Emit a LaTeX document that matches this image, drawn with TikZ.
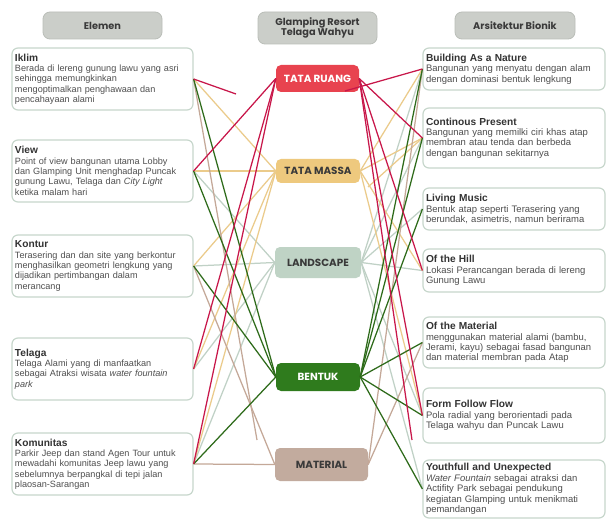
\documentclass[tikz,border=0pt]{standalone}
\usepackage{fontspec}
\setmainfont{Liberation Sans}
\newfontfamily\popfont{Poppins}
\definecolor{redfill}{HTML}{E8434F}
\definecolor{redline}{HTML}{C8174A}
\definecolor{tanfill}{HTML}{EEC97E}
\definecolor{tanline}{HTML}{EBCB8B}
\definecolor{lsfill}{HTML}{BFD3C5}
\definecolor{lsline}{HTML}{C0D1C6}
\definecolor{btfill}{HTML}{2F7B1D}
\definecolor{grline}{HTML}{2E6B1A}
\definecolor{matfill}{HTML}{C2AB9E}
\definecolor{brline}{HTML}{C4A898}
\definecolor{headfill}{HTML}{CBCEC9}
\definecolor{headborder}{HTML}{BABEB8}
\definecolor{boxborder}{HTML}{C7D7CC}
\definecolor{bodytext}{HTML}{4F4F4F}
\definecolor{titletext}{HTML}{333333}
\definecolor{darktext}{HTML}{3A3A3A}
\newcommand{\ttl}[1]{{\fontsize{10.2}{10.4}\selectfont\bfseries\color{titletext}#1}}
\begin{document}
\begin{tikzpicture}[x=1bp,y=-1bp,
  ebox/.style={draw=boxborder, line width=1.2bp, rounded corners=6bp, fill=white,
    inner xsep=3bp, inner ysep=1bp, align=left, text=bodytext},
  lbox/.style={ebox, minimum width=181bp, text width=175bp, font=\fontsize{9.15}{10.4}\selectfont},
  rbox/.style={ebox, minimum width=182bp, text width=176bp, font=\fontsize{9.5}{10.4}\selectfont},
  hbox/.style={draw=headborder, fill=headfill, line width=0.8bp, rounded corners=7bp,
    minimum width=119bp, align=center, text=darktext, inner sep=0pt,
    font=\popfont\bfseries\fontsize{9.8}{10.8}\selectfont},
  cnode/.style={rounded corners=5bp, minimum width=84bp, inner sep=0pt,
    font=\popfont\bfseries\fontsize{10.4}{11}\selectfont},
  lr/.style={draw=redline, line width=1.25bp},
  lt/.style={draw=tanline, line width=1.25bp},
  ll/.style={draw=lsline, line width=1.25bp},
  lg/.style={draw=grline, line width=1.25bp},
  lm/.style={draw=brline, line width=1.25bp}
]
\useasboundingbox[fill=white] (0,0) rectangle (608,521);

% headers
\node[hbox, minimum height=27bp] (hElemen) at (102.5,25.5) {Elemen};
\node[hbox, minimum height=32bp] (hGlamp) at (317.5,28) {Glamping Resort\\Telaga Wahyu};
\node[hbox, minimum height=27bp, minimum width=120bp] (hBionik) at (515,25.5) {Arsitektur Bionik};

% left boxes
\node[lbox, minimum height=62bp] (iklim) at (102.5,79) {\ttl{Iklim}\\Berada di lereng gunung lawu yang asri\\sehingga memungkinkan\\mengoptimalkan penghawaan dan\\pencahayaan alami};
\node[lbox, minimum height=62bp] (view) at (102.5,171) {\ttl{View}\\Point of view bangunan utama Lobby\\dan Glamping Unit menghadap Puncak\\gunung Lawu, Telaga dan \textit{City Light}\\ketika malam hari};
\node[lbox, minimum height=62bp] (kontur) at (102.5,266) {\ttl{Kontur}\\Terasering dan dan site yang berkontur\\menghasilkan geometri lengkung yang\\dijadikan pertimbangan dalam\\merancang};
\node[lbox, minimum height=62bp] (telaga) at (102.5,369) {\ttl{Telaga}\\Telaga Alami yang di manfaatkan\\sebagai Atraksi wisata \textit{water fountain}\\\textit{park}};
\node[lbox, minimum height=62bp] (komunitas) at (102.5,464) {\ttl{Komunitas}\\Parkir Jeep dan stand Agen Tour untuk\\mewadahi komunitas Jeep lawu yang\\sebelumnya berpangkal di tepi jalan\\plaosan-Sarangan};

% right boxes
\node[rbox, minimum height=42bp] (building) at (514,69) {\ttl{Building As a Nature}\\Bangunan yang menyatu dengan alam\\dengan dominasi bentuk lengkung};
\node[rbox, minimum height=60bp] (continous) at (514,138) {\ttl{Continous Present}\\Bangunan yang memilki ciri khas atap\\membran atau tenda dan berbeda\\dengan bangunan sekitarnya};
\node[rbox, minimum height=42bp] (living) at (514,209) {\ttl{Living Music}\\Bentuk atap seperti Terasering yang\\berundak, asimetris, namun berirama};
\node[rbox, minimum height=43bp] (hill) at (514,270.5) {\ttl{Of the Hill}\\Lokasi Perancangan berada di lereng\\Gunung Lawu};
\node[rbox, minimum height=51bp] (ofmat) at (514,342.5) {\ttl{Of the Material}\\menggunakan material alami (bambu,\\Jerami, kayu) sebagai fasad bangunan\\dan material membran pada Atap};
\node[rbox, minimum height=55bp] (fff) at (514,415.5) {\ttl{Form Follow Flow}\\Pola radial yang berorientadi pada\\Telaga wahyu dan Puncak Lawu};
\node[rbox, minimum height=58bp] (youth) at (514,489) {\ttl{Youthfull and Unexpected}\\\textit{Water Fountain} sebagai atraksi dan\\Actifity Park sebagai pendukung\\kegiatan Glamping untuk menikmati\\pemandangan};

% centre nodes
\node[cnode, fill=redfill, text=white, minimum width=83bp, minimum height=27bp] (tr) at (317.5,78.5) {TATA RUANG};
\node[cnode, fill=tanfill, text=darktext, minimum height=24bp] (tm) at (318,171) {TATA MASSA};
\node[cnode, fill=lsfill, text=darktext, minimum width=86bp, minimum height=31bp] (ls) at (318,262.5) {LANDSCAPE};
\node[cnode, fill=btfill, text=white, minimum height=28bp] (bt) at (318,377) {BENTUK};
\node[cnode, fill=matfill, text=darktext, minimum width=93bp, minimum height=33bp] (mat) at (321.5,464.5) {MATERIAL};

% loose ends
\coordinate (stubA) at (236,94);
\coordinate (stubB) at (345,91);
\coordinate (stubC) at (368,187);
\coordinate (stubD) at (257,440);
\coordinate (stubE) at (412,440);

% left side connectors
\draw[ll] (ls.west) -- (view.east);
\draw[ll] (ls.west) -- (kontur.east);
\draw[ll] (ls.west) -- (telaga.east);
\draw[ll] (ls.west) -- (komunitas.east);
\draw[lt] (tm.west) -- (iklim.east);
\draw[lt] (tm.west) -- (view.east);
\draw[lt] (tm.west) -- (kontur.east);
\draw[lt] (tm.west) -- (telaga.east);
\draw[lt] (tm.west) -- (komunitas.east);
\draw[lm] (iklim.east) -- (stubD);
\draw[lm] (mat.west) -- (kontur.east);
\draw[lm] (mat.west) -- (komunitas.east);
\draw[lg] (bt.west) -- (iklim.east);
\draw[lg] (bt.west) -- (view.east);
\draw[lg] (bt.west) -- (kontur.east);
\draw[lg] (bt.west) -- (komunitas.east);
\draw[lr] (iklim.east) -- (stubA);
\draw[lr] (tr.west) -- (view.east);
\draw[lr] (tr.west) -- (telaga.east);
\draw[lr] (tr.west) -- (komunitas.east);

% right side connectors
\draw[ll] (ls.east) -- (building.west);
\draw[ll] (ls.east) -- (continous.west);
\draw[ll] (ls.east) -- (living.west);
\draw[ll] (ls.east) -- (hill.west);
\draw[ll] (ls.east) -- (fff.west);
\draw[ll] (ls.east) -- (youth.west);
\draw[lt] (tm.east) -- (building.west);
\draw[lt] (tm.east) -- (continous.west);
\draw[lt] (continous.west) -- (stubC);
\draw[lt] (tm.east) -- (hill.west);
\draw[lt] (tm.east) -- (fff.west);
\draw[lm] (mat.east) -- (building.west);
\draw[lm] (mat.east) -- (ofmat.west);
\draw[lg] (bt.east) -- (building.west);
\draw[lg] (bt.east) -- (continous.west);
\draw[lg] (bt.east) -- (living.west);
\draw[lg] (bt.east) -- (ofmat.west);
\draw[lg] (bt.east) -- (fff.west);
\draw[lg] (bt.east) -- (youth.west);
\draw[lr] (building.west) -- (stubB);
\draw[lr] (tr.east) -- (continous.west);
\draw[lr] (tr.east) -- (hill.west);
\draw[lr] (tr.east) -- (fff.west);
\draw[lr] (tr.east) -- (stubE);
\end{tikzpicture}
\end{document}
